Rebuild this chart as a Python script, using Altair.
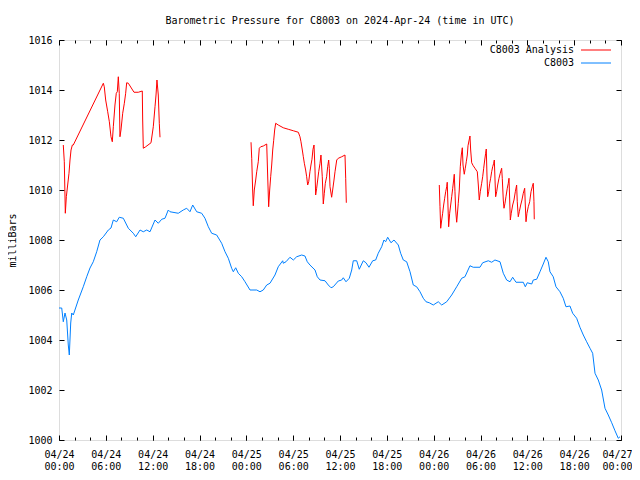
import altair as alt
import pandas as pd

FONT = "DejaVu Sans Mono"

# ---- data (hours since 2024-04-24 00:00 UTC, pressure in mb) ----
blue_h = [0.0,0.35,0.55,0.77,0.99,1.19,1.32,1.50,1.63,1.83,
          2.47,3.11,3.55,3.97,4.39,4.83,5.25,5.68,6.32,6.66,
          6.96,7.39,7.72,8.24,8.88,9.52,9.83,10.38,10.80,11.24,
          11.66,12.30,12.72,13.16,13.58,14.00,14.22,15.28,15.92,16.36,
          16.78,17.13,17.64,18.28,18.70,19.13,19.56,20.20,20.84,21.27,
          21.69,22.12,22.33,22.64,22.97,23.41,23.83,24.47,25.33,25.75,
          26.17,26.61,27.03,27.67,28.09,28.66,28.73,29.08,29.59,30.02,
          30.45,31.09,31.51,31.81,32.15,32.80,33.09,33.44,34.08,34.50,
          34.85,35.14,35.78,36.22,36.42,36.77,37.19,37.50,37.70,38.14,
          38.47,38.98,39.33,39.71,40.19,40.57,40.90,41.34,41.63,41.85,
          42.11,42.53,42.92,43.47,43.77,44.11,44.54,44.97,45.39,45.82,
          46.25,46.67,47.02,47.44,47.95,48.59,49.03,49.67,50.31,50.95,
          51.59,52.01,52.65,53.07,53.93,54.28,55.00,55.43,55.85,56.50,
          56.92,57.35,57.78,58.12,58.55,59.48,59.74,59.99,60.56,60.76,
          61.20,61.62,62.04,62.39,62.68,62.90,63.32,63.67,64.18,64.60,
          64.95,65.46,65.81,66.32,66.74,67.17,67.60,68.03,68.37,68.67,
          69.09,69.52,69.95,70.37,70.81,71.23,71.65,71.87]
blue_v = [1005.28,1005.28,1004.73,1005.08,1004.80,1003.80,1003.40,1004.68,1005.08,1005.00,
          1005.60,1006.13,1006.53,1006.88,1007.13,1007.53,1008.00,1008.13,1008.40,1008.48,
          1008.80,1008.73,1008.91,1008.87,1008.47,1008.27,1008.13,1008.40,1008.33,1008.40,
          1008.33,1008.80,1008.67,1008.83,1008.87,1009.20,1009.13,1009.07,1009.20,1009.27,
          1009.13,1009.40,1009.13,1009.07,1008.87,1008.53,1008.27,1008.20,1007.87,1007.53,
          1007.27,1006.87,1006.73,1006.89,1006.67,1006.53,1006.33,1006.00,1006.00,1005.93,
          1006.00,1006.20,1006.27,1006.60,1006.93,1007.17,1007.07,1007.13,1007.31,1007.20,
          1007.33,1007.40,1007.36,1007.13,1007.00,1006.80,1006.53,1006.40,1006.37,1006.20,
          1006.09,1006.13,1006.36,1006.40,1006.49,1006.33,1006.47,1006.80,1007.17,1007.17,
          1006.83,1007.17,1007.09,1006.91,1007.17,1007.20,1007.47,1007.73,1008.00,1007.93,
          1008.11,1007.89,1008.00,1007.80,1007.47,1007.20,1007.13,1006.73,1006.20,1006.13,
          1005.93,1005.67,1005.53,1005.49,1005.40,1005.53,1005.40,1005.53,1005.80,1006.13,
          1006.47,1006.53,1006.97,1006.91,1006.91,1007.09,1007.17,1007.11,1007.20,1007.13,
          1006.67,1006.40,1006.33,1006.51,1006.31,1006.31,1006.13,1006.29,1006.24,1006.40,
          1006.43,1006.73,1007.04,1007.31,1007.13,1006.73,1006.53,1006.13,1005.93,1005.67,
          1005.33,1005.36,1005.07,1004.87,1004.51,1004.20,1003.93,1003.67,1003.47,1002.67,
          1002.40,1002.00,1001.27,1001.00,1000.69,1000.37,1000.07,1000.13]

red1_h = [0.55,0.68,0.81,0.94,1.11,1.28,1.41,1.54,1.71,1.83,
          5.68,5.80,5.98,6.24,6.45,6.66,6.83,6.96,7.17,7.34,
          7.47,7.60,7.72,7.81,7.94,8.16,8.37,8.54,8.67,8.88,
          9.61,10.16,10.67,10.72,10.80,11.11,11.79,12.08,12.30,12.43,
          12.55,12.72,12.85,12.94]
red1_v = [1011.80,1011.13,1009.07,1009.73,1010.20,1010.67,1011.20,1011.60,1011.80,1011.80,
          1014.27,1014.13,1013.60,1013.13,1012.73,1012.13,1011.93,1012.53,1013.40,1013.87,
          1013.93,1014.53,1013.87,1012.13,1012.40,1013.07,1013.47,1013.87,1014.29,1014.27,
          1013.91,1013.91,1013.96,1012.80,1011.67,1011.73,1011.89,1012.53,1013.33,1013.80,
          1014.40,1013.80,1012.67,1012.11]

red2_h = [24.60,24.69,24.81,24.89,25.02,25.20,25.33,25.53,25.66,25.84,
          26.17,26.61,26.73,26.86,26.99,27.12,27.25,27.38,27.50,27.63,
          27.76,28.09,28.73,29.37,30.02,30.66,30.87,31.00,31.17,31.30,
          31.43,31.60,31.73,31.86,31.99,32.15,32.28,32.41,32.54,32.67,
          32.80,32.88,33.01,33.14,33.27,33.44,33.56,33.73,33.86,33.99,
          34.12,34.29,34.42,34.55,34.63,34.72,34.93,35.06,35.23,35.36,
          35.58,35.78,36.22,36.64,36.73,36.81]
red2_v = [1011.91,1011.27,1010.00,1009.37,1010.00,1010.40,1010.73,1011.13,1011.67,1011.73,
          1011.76,1011.84,1010.60,1009.33,1010.00,1010.53,1011.00,1011.60,1011.97,1012.40,
          1012.67,1012.60,1012.49,1012.43,1012.37,1012.31,1012.13,1011.93,1011.60,1011.33,
          1011.07,1010.80,1010.53,1010.20,1010.33,1010.73,1011.00,1011.23,1011.63,1011.80,
          1010.80,1009.80,1010.07,1010.40,1010.73,1011.07,1011.40,1010.53,1009.44,1009.87,
          1010.27,1010.53,1010.93,1011.20,1010.87,1010.13,1009.71,1010.00,1010.40,1010.73,
          1011.20,1011.27,1011.33,1011.40,1010.47,1009.49]

red3_h = [48.72,48.81,48.90,49.03,49.15,49.28,49.41,49.54,49.67,49.74,
          49.83,49.92,50.05,50.18,50.31,50.44,50.56,50.64,50.73,50.82,
          50.95,51.03,51.15,51.28,51.41,51.54,51.67,51.76,51.92,52.05,
          52.18,52.31,52.40,52.52,52.65,52.74,52.87,53.07,53.29,53.59,
          53.72,53.84,53.97,54.15,54.28,54.41,54.54,54.66,54.74,54.83,
          54.92,55.05,55.18,55.30,55.43,55.56,55.69,55.77,55.86,55.94,
          56.07,56.20,56.37,56.53,56.71,56.79,56.92,57.01,57.14,57.26,
          57.43,57.56,57.65,57.74,57.82,57.94,58.12,58.29,58.46,58.63,
          58.71,58.84,58.97,59.15,59.31,59.48,59.66,59.74,59.83,59.95,
          60.12,60.30,60.47,60.63,60.76,60.85,60.89]
red3_v = [1010.20,1009.33,1008.47,1008.80,1009.07,1009.40,1009.67,1009.93,1010.13,1010.31,
          1009.40,1008.53,1009.07,1009.40,1009.73,1010.07,1010.40,1010.63,1009.93,1009.20,
          1008.71,1009.00,1009.47,1010.00,1010.93,1011.40,1011.69,1011.00,1010.63,1010.87,
          1011.13,1011.40,1011.77,1011.96,1012.16,1011.60,1011.09,1010.97,1010.87,1010.73,
          1010.20,1009.60,1009.93,1010.27,1010.53,1010.87,1011.20,1011.47,1011.64,1010.60,
          1009.73,1009.93,1010.27,1010.47,1010.73,1010.93,1011.07,1011.20,1010.40,1009.73,
          1009.93,1010.20,1010.47,1010.67,1010.87,1010.47,1009.60,1009.27,1009.47,1009.73,
          1010.07,1010.27,1010.47,1009.60,1008.80,1009.07,1009.40,1009.60,1009.93,1010.20,
          1009.53,1008.93,1009.13,1009.40,1009.60,1009.87,1010.07,1009.40,1008.73,1009.07,
          1009.33,1009.53,1009.93,1010.13,1010.27,1009.53,1008.83]

series_names = ["C8003 Analysis", "C8003"]
series_colors = ["#ff0000", "#0080ff"]
legend_rows = [0, 1]
major_x = list(range(0, 73, 6))
minor_x = list(range(0, 73, 2))
y_ticks = list(range(1000, 1017, 2))
title_text = "Barometric Pressure for C8003 on 2024-Apr-24 (time in UTC)"

rows = []
for h, v in zip(blue_h, blue_v):
    rows.append({"hour": h, "mb": v, "series": "C8003", "seg": "blue"})
for name, hs, vs in [("r1", red1_h, red1_v), ("r2", red2_h, red2_v), ("r3", red3_h, red3_v)]:
    for h, v in zip(hs, vs):
        rows.append({"hour": h, "mb": v, "series": "C8003 Analysis", "seg": name})
df = pd.DataFrame(rows)
legend_df = pd.DataFrame({"series": series_names, "row": legend_rows})

xscale = alt.Scale(domain=[0, 72], nice=False, zero=False)
yscale = alt.Scale(domain=[1000, 1016], nice=False, zero=False)
color_scale = alt.Scale(domain=series_names, range=series_colors)
legend_scale = alt.Scale(domain=[0, 1], range=[10, 23])

label_expr = ("['04/' + (24 + floor(datum.value / 24)), "
              "(datum.value % 24 < 10 ? '0' : '') + (datum.value % 24) + ':00']")

common = dict(domain=False, grid=False, tickColor="black", tickWidth=1, title=None)

base = alt.Chart(df)

lines = base.mark_line(strokeWidth=1).encode(
    x=alt.X("hour:Q", scale=xscale,
            axis=alt.Axis(orient="bottom", values=major_x, labelExpr=label_expr,
                          tickSize=5, offset=-5, labelPadding=9, labelFlush=False,
                          labelOverlap=False, labelFont=FONT, labelFontSize=10,
                          labelLineHeight=12, labelColor="black",
                          labelAlign={"condition": {"test": "datum.value >= 72", "value": "right"},
                                      "value": "center"},
                          labelOffset={"condition": {"test": "datum.value >= 72", "value": 11},
                                       "value": 0},
                          **common)),
    y=alt.Y("mb:Q", scale=yscale,
            axis=alt.Axis(orient="left", values=y_ticks, format="d", tickSize=5,
                          offset=-5, labelPadding=7, labelFont=FONT, labelFontSize=10,
                          labelColor="black", domain=False, grid=False,
                          tickColor="black", tickWidth=1,
                          title="milliBars", titlePadding=10, titleFont=FONT,
                          titleFontSize=10, titleFontWeight="normal", titleColor="black")),
    color=alt.Color("series:N", scale=color_scale, legend=None),
    detail="seg:N",
)


def tick_layer(x_axis, y_axis):
    return base.mark_line(opacity=0).encode(
        x=alt.X("hour:Q", scale=xscale, axis=x_axis),
        y=alt.Y("mb:Q", scale=yscale, axis=y_axis),
        detail="seg:N",
    )


bottom_minor = tick_layer(
    alt.Axis(orient="bottom", values=minor_x, labels=False, tickSize=3, offset=-3, **common),
    alt.Axis(orient="right", values=y_ticks, labels=False, tickSize=5, offset=-5, **common),
)
top_major = tick_layer(
    alt.Axis(orient="top", values=major_x, labels=False, tickSize=5, offset=-5, **common),
    None,
)
top_minor = tick_layer(
    alt.Axis(orient="top", values=minor_x, labels=False, tickSize=3, offset=-3, **common),
    None,
)

# gnuplot-style key: label on the left, line sample on the right
legend_text = alt.Chart(legend_df).mark_text(
    align="right", baseline="middle", font=FONT, fontSize=10, color="black"
).encode(
    x=alt.value(515),
    y=alt.Y("row:Q", scale=legend_scale, axis=None),
    text="series:N",
)
legend_line = alt.Chart(legend_df).mark_rule(strokeWidth=1).encode(
    x=alt.value(522),
    x2=alt.value(552),
    y=alt.Y("row:Q", scale=legend_scale, axis=None),
    color=alt.Color("series:N", scale=color_scale, legend=None),
)

chart = alt.layer(
    lines, bottom_minor, top_major, top_minor, legend_text, legend_line
).resolve_scale(
    y="independent"
).resolve_axis(
    x="independent", y="independent"
).properties(
    width=562,
    height=400,
    title=alt.Title(title_text, font=FONT, fontSize=10, fontWeight="normal",
                    color="black", offset=9, anchor="middle"),
    autosize=alt.AutoSizeParams(type="none"),
    padding={"left": 51, "top": 32, "right": 11, "bottom": 32},
).configure_view(
    stroke="black", strokeWidth=1
).configure(background="white")

chart.save("out.html", embed_options={"renderer": "svg", "actions": False})
